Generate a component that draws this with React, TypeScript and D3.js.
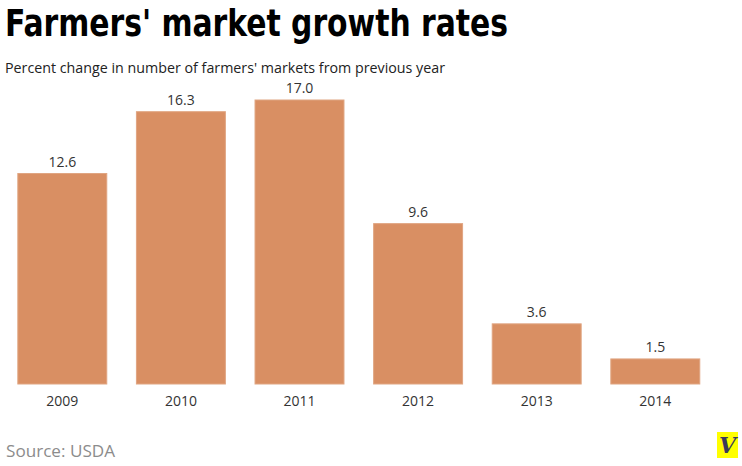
import * as d3 from "d3";
import { useRef, useEffect } from "react";

const WIDTH = 742;
const HEIGHT = 466;

const years = ["2009", "2010", "2011", "2012", "2013", "2014"];
const growth = [12.6, 16.3, 17.0, 9.6, 3.6, 1.5];

const BAR_FILL = "#d98f63";
const BAR_STROKE = "#e0a582";

export default function App() {
  const svgRef = useRef(null);

  useEffect(() => {
    const svg = d3.select(svgRef.current);
    svg.selectAll("*").remove();

    const data = years.map((y, i) => ({ year: y, value: growth[i] }));

    const x = d3
      .scaleBand()
      .domain(years)
      .range([3, 714.6])
      .paddingInner(0.25)
      .paddingOuter(0.125);

    const baseY = 384;
    const y = d3.scaleLinear().domain([0, 17]).range([baseY, 100]);

    // Title
    svg
      .append("text")
      .attr("x", 5)
      .attr("y", 36)
      .attr("textLength", 503)
      .attr("lengthAdjust", "spacingAndGlyphs")
      .style("font-family", "'DejaVu Sans Condensed', 'DejaVu Sans', sans-serif")
      .style("font-weight", "bold")
      .style("font-stretch", "condensed")
      .style("font-size", "38px")
      .attr("fill", "#000")
      .text("Farmers' market growth rates");

    svg
      .append("text")
      .attr("x", 5)
      .attr("y", 73)
      .attr("textLength", 440)
      .attr("lengthAdjust", "spacingAndGlyphs")
      .style("font-family", "'Open Sans', sans-serif")
      .style("font-size", "14px")
      .attr("fill", "#222")
      .text("Percent change in number of farmers' markets from previous year");

    // Bars
    svg
      .append("g")
      .selectAll("rect")
      .data(data)
      .join("rect")
      .attr("x", (d) => x(d.year))
      .attr("y", (d) => y(d.value))
      .attr("width", x.bandwidth())
      .attr("height", (d) => baseY - y(d.value))
      .attr("fill", BAR_FILL)
      .attr("stroke", BAR_STROKE)
      .attr("stroke-width", 1);

    // Value labels
    svg
      .append("g")
      .selectAll("text")
      .data(data)
      .join("text")
      .attr("x", (d) => x(d.year) + x.bandwidth() / 2)
      .attr("y", (d) => y(d.value) - 7)
      .attr("text-anchor", "middle")
      .style("font-family", "'Open Sans', sans-serif")
      .style("font-size", "14px")
      .attr("fill", "#333")
      .text((d) => d.value.toFixed(1));

    // Year axis
    const axis = svg
      .append("g")
      .attr("transform", `translate(0,${baseY})`)
      .call(d3.axisBottom(x).tickSize(0).tickPadding(12));
    axis.select(".domain").remove();
    axis
      .selectAll("text")
      .style("font-family", "'Open Sans', sans-serif")
      .style("font-size", "14px")
      .attr("fill", "#333");

    // Source
    svg
      .append("text")
      .attr("x", 6)
      .attr("y", 457)
      .attr("textLength", 109)
      .attr("lengthAdjust", "spacingAndGlyphs")
      .style("font-family", "'Open Sans', sans-serif")
      .style("font-size", "17px")
      .attr("fill", "#8c8c8c")
      .text("Source: USDA");

    // Logo
    svg
      .append("rect")
      .attr("x", 717)
      .attr("y", 432)
      .attr("width", 21)
      .attr("height", 26)
      .attr("fill", "#ffff00");
    svg
      .append("text")
      .attr("x", 727.5)
      .attr("y", 453)
      .attr("text-anchor", "middle")
      .style("font-family", "'DejaVu Serif', serif")
      .style("font-weight", "bold")
      .style("font-style", "italic")
      .style("font-size", "22px")
      .attr("fill", "#3a3a5a")
      .text("V");
  }, []);

  return (
    <svg
      ref={svgRef}
      width={WIDTH}
      height={HEIGHT}
      style={{ position: "absolute", left: 0, top: 0 }}
    />
  );
}
